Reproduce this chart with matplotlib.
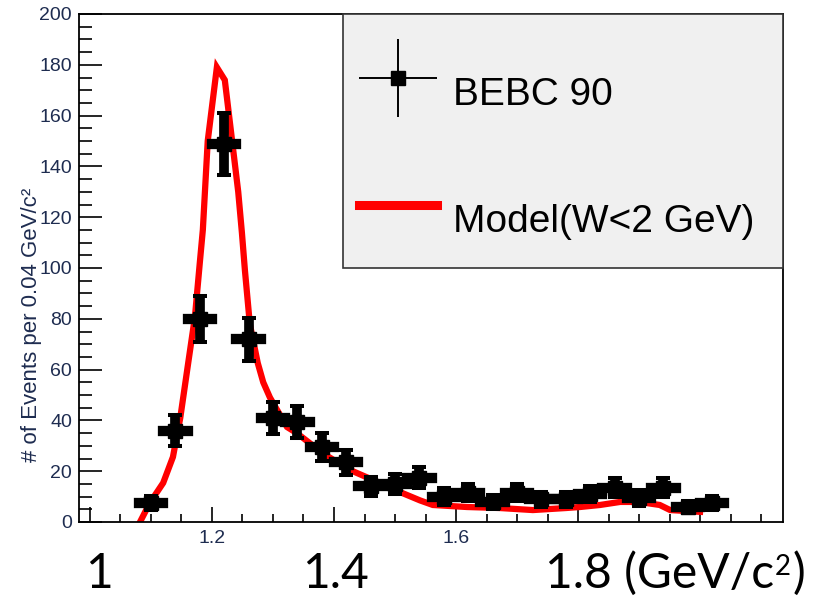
import numpy as np
import matplotlib
matplotlib.use("Agg")
import matplotlib.pyplot as plt
from matplotlib.patches import Rectangle
from matplotlib.ticker import MultipleLocator, FixedLocator, FixedFormatter
from matplotlib.legend_handler import HandlerErrorbar

# ---------------- data ----------------
bin_centers = [1.10, 1.14, 1.18, 1.22, 1.26, 1.30, 1.34, 1.38, 1.42, 1.46, 1.50, 1.54,
               1.58, 1.62, 1.66, 1.70, 1.74, 1.78, 1.82, 1.86, 1.90, 1.94, 1.98, 2.02]
counts = [7.5, 36, 80, 149, 72, 41, 39.5, 29.5, 23.5, 14, 15, 17.5,
          10, 11.5, 8, 11.5, 9, 9, 11, 13.5, 9.5, 13.5, 6, 7.5]
count_errors = [2.7, 6.0, 9.0, 12.2, 8.5, 6.4, 6.3, 5.4, 4.8, 3.7, 3.9, 4.2,
                3.2, 3.4, 2.8, 3.4, 3.0, 3.0, 3.3, 3.7, 3.1, 3.7, 2.4, 2.7]
bin_half_width = 0.02

model_mass = [1.082, 1.098, 1.120, 1.136, 1.148, 1.161, 1.172, 1.180, 1.185, 1.193,
              1.208, 1.221, 1.233, 1.243, 1.249, 1.254, 1.262, 1.275, 1.284, 1.295,
              1.307, 1.323, 1.339, 1.382, 1.426, 1.475, 1.508, 1.541, 1.562, 1.618,
              1.672, 1.726, 1.780, 1.803, 1.836, 1.869, 1.900, 1.934, 1.951, 2.000]
model_events = [0, 7.5, 15.4, 25.6, 41, 62.6, 80.7, 102, 115, 150,
                179, 174, 150, 130, 114, 99, 78, 62.6, 55, 49,
                44, 37.4, 35, 27, 20.5, 15.4, 11.8, 8.5, 6.7, 5.9,
                5.5, 4.7, 5.5, 5.9, 6.7, 7.9, 7.9, 6.7, 4.7, 4.0]

x_major_ticks = [1.0, 1.2, 1.4, 1.6, 1.8, 2.0]
x_major_labels = ["", "1.2", "", "1.6", "", ""]
big_x_labels = ["1", "1.4", "1.8 (GeV/c", "2", ")"]
legend_labels = ["BEBC 90", "Model(W<2 GeV)"]
y_title = "# of Events per 0.04 GeV/c\u00b2"

# ---------------- figure ----------------
W, H = 815, 597
fig = plt.figure(figsize=(W / 100, H / 100), dpi=100)
ax = fig.add_axes([79 / W, 1 - 522 / H, (783 - 79) / W, (522 - 14) / H])
ax.set_xlim(0.982, 2.136)
ax.set_ylim(0, 200)

label_color = "#1e2c50"

ax.xaxis.set_major_locator(FixedLocator(x_major_ticks))
ax.xaxis.set_major_formatter(FixedFormatter(x_major_labels))
ax.xaxis.set_minor_locator(MultipleLocator(0.05))
ax.yaxis.set_major_locator(MultipleLocator(20))
ax.yaxis.set_minor_locator(MultipleLocator(5))
ax.tick_params(which="both", direction="in", top=False, right=False,
               width=1.2, color="black")
ax.tick_params(axis="x", which="major", length=11, pad=6)
ax.tick_params(axis="x", which="minor", length=5.8)
ax.tick_params(axis="y", which="major", length=16.5, pad=5)
ax.tick_params(axis="y", which="minor", length=9.4)
for lab in ax.get_xticklabels() + ax.get_yticklabels():
    lab.set_fontfamily("Liberation Sans")
    lab.set_fontsize(14)
    lab.set_color(label_color)
for sp in ax.spines.values():
    sp.set_linewidth(1.3)

ax.set_ylabel(y_title, fontfamily="Liberation Sans", fontsize=16, color=label_color)
ax.yaxis.set_label_coords(-0.052, 0.388)

# model curve
ax.plot(model_mass, model_events, color="#ff0000", lw=4.5,
        solid_joinstyle="miter", zorder=2)

# data: horizontal bars (bin width)
ebx = ax.errorbar(bin_centers, counts, xerr=bin_half_width, fmt="none",
                  ecolor="black", elinewidth=7.4, capsize=0, zorder=3)
for c in ebx.lines[2]:
    c.set_capstyle("projecting")
# data: vertical bars with small caps and square markers
eby = ax.errorbar(bin_centers, counts, yerr=count_errors, fmt="s", color="black",
                  ms=9.4, elinewidth=7.0, capsize=4.7, capthick=2.9, zorder=4)

# legend proxies
h_data = ax.errorbar([], [], xerr=[], yerr=[], fmt="s", color="black", ms=9.4,
                     elinewidth=1.4, capsize=0)
h_model, = ax.plot([], [], color="#ff0000", lw=6.5)

box = Rectangle((0.375, 0.5), 0.625, 0.5, transform=ax.transAxes,
                facecolor="#f0f0f0", edgecolor="#333333", lw=1.2,
                zorder=5, clip_on=False)
ax.add_patch(box)

leg = ax.legend([h_data, h_model], legend_labels,
                handler_map={h_data: HandlerErrorbar(xerr_size=1.0, yerr_size=1.0)},
                loc="upper left", bbox_to_anchor=(0.3977, 0.927),
                frameon=False, prop=dict(family="Liberation Sans", size=28),
                handlelength=2.0, handletextpad=0.41, handleheight=2.99,
                labelspacing=1.077, borderpad=0, borderaxespad=0)
leg.set_zorder(6)

# big overlaid x labels
big_font = dict(family="Lato", color="black")
base_y = 1 - 588 / H
fig.text(85 / W, base_y, big_x_labels[0], fontsize=34.5, va="baseline", **big_font)
fig.text(302 / W, base_y, big_x_labels[1], fontsize=34.5, va="baseline", **big_font)
t_main = fig.text(545 / W, base_y, big_x_labels[2], fontsize=34.5, va="baseline", **big_font)
fig.canvas.draw()
r = fig.canvas.get_renderer()
bb = t_main.get_window_extent(r)
t_sup = fig.text((bb.x1 + 1) / W, base_y + 13 / H, big_x_labels[3], fontsize=20,
                 va="baseline", **big_font)
bb2 = t_sup.get_window_extent(r)
fig.text((bb2.x1 + 1) / W, base_y, big_x_labels[4], fontsize=34.5, va="baseline", **big_font)

fig.savefig("out.png", dpi=100, facecolor="white")
